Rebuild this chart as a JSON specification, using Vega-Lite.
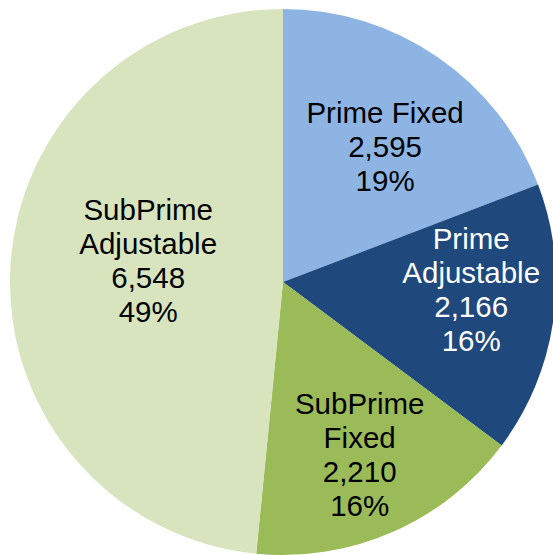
{
  "$schema": "https://vega.github.io/schema/vega-lite/v6.json",
  "width": 566,
  "height": 564,
  "padding": 0,
  "autosize": {"type": "none"},
  "background": "white",
  "config": {"view": {"stroke": null}, "text": {"font": "Liberation Sans", "fontSize": 29.5, "lineHeight": 34, "lineBreak": "\n", "align": "center", "baseline": "middle"}},
  "data": {
    "values": [
      {"idx": 1, "category": "Prime Fixed", "value": 2595, "label": "Prime Fixed\n2,595\n19%"},
      {"idx": 2, "category": "Prime Adjustable", "value": 2166, "label": "Prime\nAdjustable\n2,166\n16%"},
      {"idx": 3, "category": "SubPrime Fixed", "value": 2210, "label": "SubPrime\nFixed\n2,210\n16%"},
      {"idx": 4, "category": "SubPrime Adjustable", "value": 6548, "label": "SubPrime\nAdjustable\n6,548\n49%"}
    ]
  },
  "encoding": {
    "theta": {"field": "value", "type": "quantitative", "stack": true},
    "order": {"field": "idx", "type": "quantitative"}
  },
  "layer": [
    {
      "mark": {"type": "arc", "outerRadius": 273},
      "encoding": {
        "color": {
          "field": "category",
          "type": "nominal",
          "scale": {
            "domain": ["Prime Fixed", "Prime Adjustable", "SubPrime Fixed", "SubPrime Adjustable"],
            "range": ["#8EB4E3", "#1F497D", "#9BBB59", "#D7E4BD"]
          },
          "legend": null
        }
      }
    },
    {
      "mark": {"type": "text", "radius": 180, "dy": -20, "color": "black"},
      "encoding": {
        "text": {"condition": {"test": "datum.category === 'Prime Fixed'", "field": "label"}, "value": ""}
      }
    },
    {
      "mark": {"type": "text", "radius": 190, "dy": -68, "color": "white"},
      "encoding": {
        "text": {"condition": {"test": "datum.category === 'Prime Adjustable'", "field": "label"}, "value": ""}
      }
    },
    {
      "mark": {"type": "text", "radius": 190, "dy": -51, "color": "black"},
      "encoding": {
        "text": {"condition": {"test": "datum.category === 'SubPrime Fixed'", "field": "label"}, "value": ""}
      }
    },
    {
      "mark": {"type": "text", "radius": 135, "dy": -64, "color": "black"},
      "encoding": {
        "text": {"condition": {"test": "datum.category === 'SubPrime Adjustable'", "field": "label"}, "value": ""}
      }
    }
  ]
}
